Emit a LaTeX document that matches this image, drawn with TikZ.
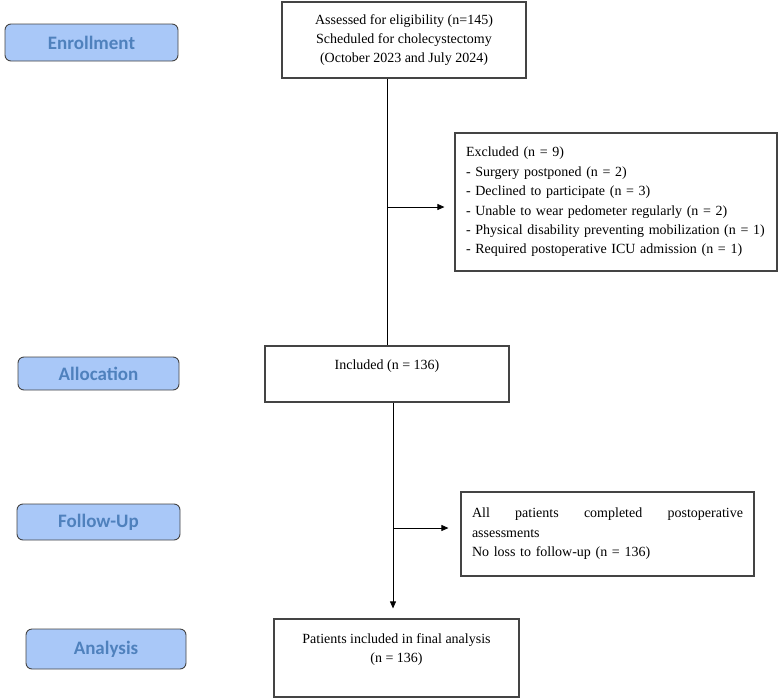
\documentclass[tikz,border=0pt]{standalone}
\usepackage{fontspec}
\setmainfont{Liberation Serif}
\newfontfamily\stagefont{Carlito}
\usetikzlibrary{arrows.meta,positioning}
\definecolor{stagefill}{HTML}{A9C8F8}
\definecolor{stagetext}{HTML}{4F81BD}
\definecolor{boxline}{HTML}{444444}

\begin{document}
\begin{tikzpicture}[
  x=1pt, y=-1pt,
  stage/.style={rectangle, draw=boxline, rounded corners=6pt, fill=stagefill,
                line width=0.9pt, inner sep=0pt, text=stagetext,
                font=\stagefont\bfseries\fontsize{19}{22}\selectfont},
  flowbox/.style={rectangle, draw=boxline, line width=1.2pt, inner sep=0pt,
                  align=center, font=\fontsize{14}{19.4}\selectfont},
  sidebox/.style={flowbox, align=left, inner xsep=11pt},
  stream/.style={-{Triangle[length=7pt,width=6pt]}, line width=0.8pt},
]
\useasboundingbox (0,0) rectangle (782,699);

% stage labels
\node[stage, minimum width=173pt, minimum height=37pt] (enrol) at (91.5,42.5) {Enrollment};
\node[stage, minimum width=161pt, minimum height=33pt] (alloc) at (98.5,373.5) {Allocation};
\node[stage, minimum width=163pt, minimum height=36pt] (fup) at (98.5,522) {Follow-Up};
\node[stage, minimum width=160pt, minimum height=40pt] (anal) at (106,649) {Analysis};

% flow boxes
\node[flowbox, minimum width=244pt, minimum height=76pt] (assessed) at (404,40)
  {Assessed for eligibility (n=145)\\Scheduled for cholecystectomy\\(October 2023 and July 2024)};
\node[sidebox, text width=300pt, minimum height=138pt] (excluded) at (616,202)
  {Excluded (n = 9)\\- Surgery postponed (n = 2)\\- Declined to participate (n = 3)\\
   - Unable to wear pedometer regularly (n = 2)\\
   - Physical disability preventing mobilization (n = 1)\\
   - Required postoperative ICU admission (n = 1)};
\node[flowbox, minimum width=244pt, minimum height=56pt] (included) at (387,374)
  {Included (n = 136)\\~};
\node[sidebox, text width=271pt, minimum height=84pt] (follow) at (607.5,534)
  {\hbox to 271pt{All\hfill patients\hfill completed\hfill postoperative}\\assessments\\No loss to follow-up (n = 136)};
\node[flowbox, minimum width=245pt, minimum height=78pt] (analysis) at (396.5,658)
  {Patients included in final analysis\\(n = 136)\\~};

% connectors
\coordinate (exjoin) at (388,207);
\coordinate (fujoin) at (393,528);
\draw[line width=0.8pt] (assessed.south -| included.north) -- (included.north);
\draw[stream, shorten >=10pt] (exjoin) -- (exjoin -| excluded.west);
\draw[stream, shorten >=10pt] (fujoin |- included.south) -- (fujoin |- analysis.north);
\draw[stream, shorten >=12pt] (fujoin) -- (fujoin -| follow.west);

\end{tikzpicture}
\end{document}
